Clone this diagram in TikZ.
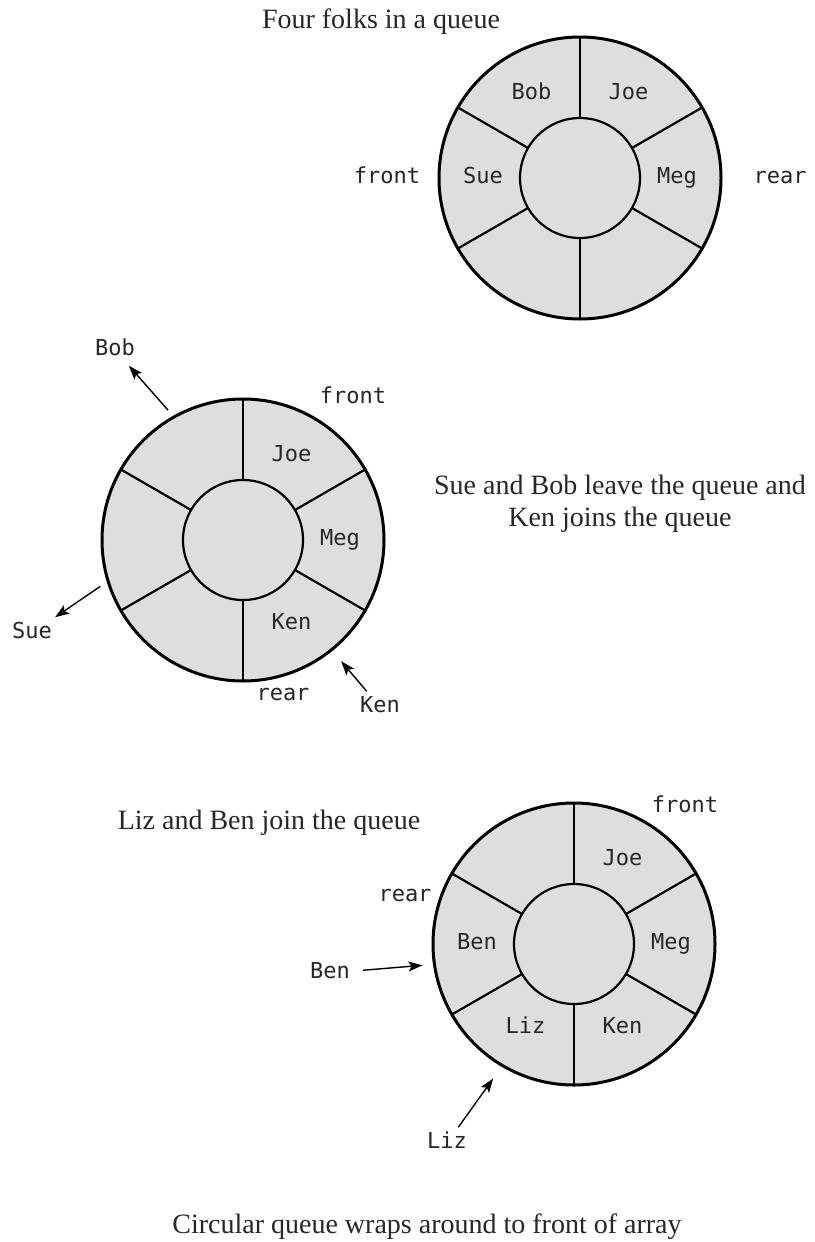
\documentclass[tikz,border=0pt]{standalone}
\usepackage{fontspec}
\setmainfont{Liberation Serif}
\setmonofont{DejaVu Sans Mono}
\usetikzlibrary{arrows.meta,calc}
\usepackage{xcolor}
\definecolor{slot}{HTML}{DEDEDE}

\begin{document}
\begin{tikzpicture}[
    x=0.5pt, y=-0.5pt,
    wheel/.style={draw, line width=1.5pt, fill=slot},
    hub/.style={draw, line width=1.1pt, fill=slot},
    spoke/.style={line width=1.1pt},
    folk/.style={font=\ttfamily\fontsize{11}{13}\selectfont, text=black!85,
                 text height=1.6ex, text depth=0.3ex},
    caption/.style={font=\fontsize{14}{16}\selectfont, align=center, text=black!85},
    arrow/.style={-{Stealth[length=7pt, width=5pt, inset=1.5pt]}, line width=0.7pt},
  ]
    \useasboundingbox (0,0) rectangle (814,1242);

    % the three snapshots of the ring buffer
    \coordinate (q1) at (580,178);
    \coordinate (q2) at (243,540);
    \coordinate (q3) at (574,944);
    \foreach \q in {q1,q2,q3} {
      \draw[wheel] (\q) circle[radius=70.5pt];
      \foreach \a in {30,90,...,330}
        \draw[spoke] ($(\q)+(\a:60)$) -- ($(\q)+(\a:141)$);
      \draw[hub] (\q) circle[radius=30pt];
    }

    % four folks
    \node[caption] (title1) at (381,22) {Four folks in a queue};
    \node[folk] (q1bob) at ($(q1)+(-120:97)$) {Bob};
    \node[folk] (q1joe) at ($(q1)+(-60:97)$) {Joe};
    \node[folk] (q1sue) at ($(q1)+(180:97)$) {Sue};
    \node[folk] (q1meg) at ($(q1)+(0:97)$) {Meg};
    \node[folk] (q1front) at (387,178) {front};
    \node[folk] (q1rear) at (780,178) {rear};

    % two leave, one joins
    \node[caption] (title2) at (620,504) {Sue and Bob leave the queue and\\Ken joins the queue};
    \node[folk] (q2joe) at ($(q2)+(-60:97)$) {Joe};
    \node[folk] (q2meg) at ($(q2)+(0:97)$) {Meg};
    \node[folk] (q2ken) at ($(q2)+(60:97)$) {Ken};
    \node[folk] (q2front) at (353,398) {front};
    \node[folk] (q2rear) at (283,695) {rear};
    \node[folk] (bobout) at (115,350) {Bob};
    \node[folk] (sueout) at (32,633) {Sue};
    \node[folk] (kenin) at (380,707) {Ken};
    \coordinate (q2bobexit) at ($(q2)+(-120:150)$);
    \coordinate (q2sueexit) at ($(q2)+(162:150)$);
    \coordinate (q2kenentry) at ($(q2)+(51:156)$);
    \draw[arrow] (q2bobexit) -- (bobout);
    \draw[arrow] (q2sueexit) -- (sueout);
    \draw[arrow] (kenin) -- (q2kenentry);

    % wrap around
    \node[caption] (title3) at (269,823) {Liz and Ben join the queue};
    \node[folk] (q3joe) at ($(q3)+(-60:97)$) {Joe};
    \node[folk] (q3meg) at ($(q3)+(0:97)$) {Meg};
    \node[folk] (q3ken) at ($(q3)+(60:97)$) {Ken};
    \node[folk] (q3liz) at ($(q3)+(120:97)$) {Liz};
    \node[folk] (q3ben) at ($(q3)+(180:97)$) {Ben};
    \node[folk] (q3front) at (685,807) {front};
    \node[folk] (q3rear) at (405,896) {rear};
    \node[folk] (benin) at (330,973) {Ben};
    \node[folk] (lizin) at (447,1143) {Liz};
    \coordinate (q3benentry) at ($(q3)+(172:153)$);
    \coordinate (q3lizentry) at ($(q3)+(121:157)$);
    \draw[arrow, shorten <=3pt] (benin) -- (q3benentry);
    \draw[arrow] (lizin) -- (q3lizentry);

    \node[caption] (title4) at (427,1227) {Circular queue wraps around to front of array};
  \end{tikzpicture}
\end{document}
